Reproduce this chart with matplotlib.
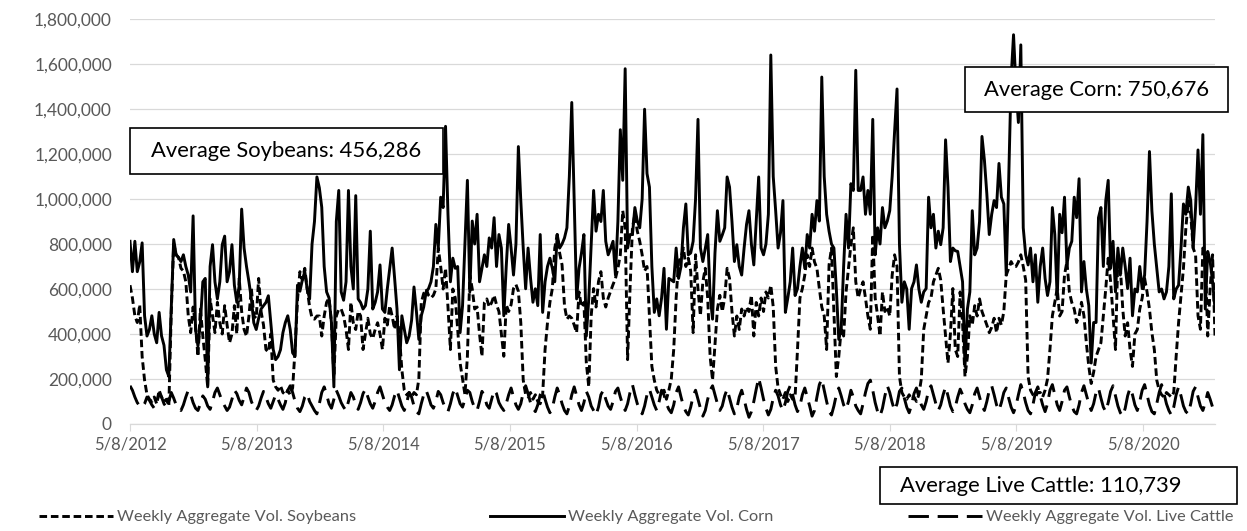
import pandas as pd
import matplotlib.pyplot as plt
from matplotlib.patches import Rectangle
from matplotlib.ticker import FuncFormatter, MultipleLocator

# ---------- DATA (weekly aggregate volume, thousands of contracts) ----------
start_date = "2012-05-08"

corn = [
    812, 677, 812, 677, 720, 805, 481, 391, 420, 481,
    400, 361, 496, 391, 350, 241, 211, 520, 820, 752,
    740, 722, 752, 700, 662, 587, 925, 420, 346, 451,
    632, 647, 165, 700, 797, 632, 556, 632, 797, 835,
    632, 677, 797, 617, 541, 617, 955, 782, 700, 632,
    556, 450, 420, 470, 511, 526, 540, 570, 450, 331,
    286, 300, 330, 406, 451, 481, 420, 316, 301, 617,
    590, 640, 677, 600, 556, 800, 900, 1098, 1050, 963,
    700, 587, 560, 450, 165, 900, 1038, 587, 550, 632,
    1038, 700, 600, 1015, 556, 540, 511, 526, 600, 857,
    511, 540, 587, 707, 511, 496, 600, 692, 782, 650,
    511, 241, 481, 420, 361, 391, 460, 609, 500, 376,
    481, 520, 587, 602, 632, 700, 887, 782, 1008, 962,
    1323, 932, 632, 737, 692, 700, 406, 526, 800, 1083,
    587, 902, 800, 932, 632, 692, 752, 700, 827, 782,
    917, 700, 842, 782, 481, 700, 887, 782, 662, 800,
    1233, 993, 782, 601, 782, 650, 541, 601, 526, 842,
    496, 632, 700, 737, 692, 632, 842, 782, 800, 827,
    872, 1100, 1429, 993, 556, 692, 760, 842, 391, 556,
    800, 1038, 857, 932, 900, 1038, 812, 752, 780, 812,
    662, 900, 1308, 1083, 1579, 782, 842, 842, 962, 902,
    872, 1000, 1399, 1113, 1053, 700, 496, 556, 481, 560,
    692, 421, 647, 640, 632, 782, 647, 700, 872, 978,
    752, 760, 812, 1000, 1354, 782, 722, 780, 842, 572,
    466, 760, 948, 812, 840, 872, 1098, 1053, 900, 722,
    797, 700, 662, 782, 887, 948, 800, 707, 900, 1098,
    782, 752, 800, 932, 1640, 1100, 948, 782, 850, 993,
    496, 560, 632, 782, 571, 602, 700, 782, 692, 842,
    782, 932, 857, 993, 902, 1542, 1100, 932, 857, 800,
    782, 600, 376, 421, 700, 932, 782, 1068, 1038, 1572,
    1038, 1038, 1098, 932, 1038, 932, 1354, 752, 872, 800,
    962, 872, 902, 948, 1100, 1300, 1489, 800, 541, 632,
    600, 421, 602, 632, 707, 600, 541, 587, 602, 1008,
    872, 932, 782, 857, 797, 872, 1263, 1053, 722, 782,
    770, 767, 700, 632, 256, 511, 587, 948, 752, 782,
    900, 1278, 1173, 1023, 842, 932, 993, 962, 1158, 1008,
    978, 662, 1083, 1534, 1730, 1500, 1340, 1685, 872, 752,
    707, 782, 632, 752, 541, 700, 782, 647, 571, 632,
    962, 842, 556, 932, 850, 1008, 707, 782, 812, 1008,
    917, 1090, 587, 722, 600, 526, 271, 451, 451, 917,
    962, 700, 993, 1083, 692, 812, 587, 782, 662, 782,
    700, 602, 737, 481, 600, 587, 700, 602, 662, 900,
    1211, 948, 800, 692, 587, 600, 556, 587, 700, 1023,
    556, 600, 617, 782, 978, 932, 1053, 993, 782, 962,
    1218, 932, 1286, 511, 767, 722, 632, 511,
]

soybeans = [
    617, 560, 481, 451, 530, 300, 195, 130, 110, 100,
    120, 90, 150, 120, 100, 110, 80, 500, 800, 752,
    740, 692, 680, 632, 481, 406, 520, 436, 300, 511,
    391, 286, 165, 556, 481, 406, 541, 450, 400, 526,
    440, 361, 400, 526, 400, 647, 500, 420, 390, 480,
    602, 481, 470, 647, 500, 440, 331, 320, 400, 195,
    165, 150, 170, 140, 130, 150, 130, 160, 331, 550,
    677, 640, 692, 600, 520, 470, 466, 480, 480, 391,
    480, 541, 560, 450, 210, 480, 511, 511, 480, 420,
    331, 541, 450, 420, 500, 481, 331, 400, 470, 400,
    380, 420, 450, 400, 331, 470, 440, 526, 480, 421,
    480, 391, 241, 150, 130, 140, 120, 140, 130, 200,
    540, 580, 600, 572, 560, 572, 600, 782, 700, 600,
    692, 520, 331, 600, 560, 420, 271, 200, 130, 300,
    662, 600, 511, 520, 400, 301, 540, 556, 520, 540,
    572, 530, 500, 400, 301, 530, 500, 530, 602, 620,
    590, 450, 195, 130, 120, 140, 110, 130, 100, 90,
    130, 331, 451, 541, 602, 782, 842, 760, 707, 526,
    466, 480, 470, 440, 406, 587, 520, 540, 271, 165,
    481, 602, 520, 632, 677, 560, 520, 560, 590, 620,
    647, 692, 752, 948, 872, 286, 600, 872, 932, 857,
    812, 752, 680, 700, 481, 256, 195, 150, 130, 140,
    150, 110, 150, 200, 331, 560, 722, 740, 782, 700,
    737, 680, 406, 752, 600, 481, 632, 692, 560, 300,
    195, 350, 511, 572, 500, 560, 692, 647, 500, 391,
    480, 420, 511, 480, 520, 500, 572, 391, 540, 480,
    560, 500, 587, 560, 617, 520, 256, 160, 130, 110,
    140, 100, 130, 110, 120, 331, 560, 602, 662, 752,
    700, 782, 720, 692, 602, 520, 481, 331, 707, 782,
    500, 211, 300, 420, 391, 587, 692, 797, 872, 632,
    560, 600, 632, 560, 480, 421, 842, 560, 480, 391,
    587, 500, 520, 480, 662, 752, 700, 211, 140, 120,
    110, 130, 110, 120, 100, 130, 200, 420, 481, 540,
    560, 632, 662, 692, 640, 511, 391, 271, 400, 602,
    331, 300, 587, 450, 211, 300, 481, 440, 526, 480,
    556, 500, 470, 440, 406, 430, 470, 406, 470, 440,
    500, 662, 692, 722, 700, 700, 720, 752, 700, 640,
    211, 150, 130, 120, 140, 140, 120, 150, 200, 331,
    481, 541, 602, 480, 500, 662, 722, 587, 540, 511,
    451, 480, 541, 481, 361, 256, 180, 230, 300, 331,
    361, 481, 602, 737, 632, 481, 331, 752, 700, 511,
    391, 450, 331, 256, 400, 420, 511, 560, 647, 587,
    511, 406, 331, 195, 150, 130, 120, 140, 130, 120,
    140, 301, 451, 572, 692, 872, 993, 932, 782, 752,
    481, 421, 782, 740, 391, 602, 752, 391,
]

cattle = [
    170, 150, 120, 95, 80, 75, 90, 120, 105, 85, 70, 95, 135, 120, 90, 75, 100, 140, 115, 85,
    70, 60, 85, 120, 150, 130, 95, 70, 60, 90, 125, 110, 80, 65, 100, 140, 160, 130, 100, 80,
    60, 75, 110, 150, 135, 105, 85, 120, 160, 140, 100, 75, 60, 80, 115, 145, 120, 90, 70, 100,
    130, 110, 85, 65, 95, 150, 170, 140, 100, 70, 55, 80, 120, 135, 100, 80, 60, 45, 90, 140,
    165, 130, 90, 70, 110, 150, 125, 95, 75, 60, 100, 140, 120, 85, 65, 95, 135, 155, 120, 90,
    70, 100, 140, 165, 130, 95, 75, 60, 85, 125, 150, 115, 80, 60, 95, 140, 120, 80, 55, 45,
    90, 130, 150, 120, 85, 70, 100, 145, 130, 95, 70, 55, 90, 135, 160, 125, 90, 75, 110, 150,
    140, 100, 70, 60, 100, 145, 125, 85, 70, 110, 150, 135, 95, 75, 60, 90, 130, 160, 120, 85,
    65, 90, 140, 170, 135, 95, 70, 55, 85, 130, 150, 110, 75, 50, 70, 120, 160, 130, 90, 60,
    45, 80, 130, 165, 125, 85, 60, 95, 145, 120, 80, 60, 40, 75, 130, 150, 110, 80, 65, 100,
    145, 160, 120, 85, 60, 90, 140, 175, 130, 90, 65, 45, 80, 130, 155, 120, 85, 60, 100, 150,
    130, 90, 65, 50, 85, 140, 165, 120, 80, 55, 40, 75, 125, 150, 110, 70, 35, 60, 110, 150,
    170, 130, 90, 60, 80, 125, 155, 115, 75, 45, 70, 120, 150, 110, 65, 30, 55, 100, 155, 205,
    160, 110, 70, 40, 65, 115, 150, 125, 85, 60, 95, 145, 170, 130, 85, 55, 80, 130, 160, 120,
    80, 35, 60, 120, 175, 200, 150, 100, 55, 40, 80, 130, 160, 125, 85, 65, 100, 150, 120, 80,
    60, 45, 90, 140, 180, 195, 150, 95, 55, 35, 70, 125, 170, 140, 95, 60, 90, 145, 160, 115,
    75, 50, 85, 135, 160, 120, 85, 65, 100, 150, 170, 130, 90, 60, 85, 130, 165, 125, 80, 55,
    75, 120, 155, 130, 90, 65, 50, 85, 135, 160, 120, 80, 60, 100, 150, 170, 130, 85, 60, 95,
    140, 160, 115, 75, 50, 80, 130, 175, 140, 95, 60, 45, 85, 140, 165, 125, 85, 55, 90, 150,
    175, 130, 85, 60, 100, 150, 165, 120, 80, 55, 45, 85, 140, 170, 130, 90, 60, 90, 140, 160,
    115, 75, 55, 95, 145, 170, 125, 80, 50, 35, 70, 125, 160, 130, 85, 60, 100, 150, 175, 130,
    85, 55, 45, 90, 140, 175, 135, 90, 60, 40, 75, 130, 165, 125, 80, 55, 45, 90, 145, 165,
    120, 80, 60, 95, 140, 110, 75, 55,
]

tick_years = [2012, 2013, 2014, 2015, 2016, 2017, 2018, 2019, 2020]
series_labels = ["Weekly Aggregate Vol. Soybeans",
                 "Weekly Aggregate Vol. Corn",
                 "Weekly Aggregate Vol. Live Cattle"]
avg_text = ["Average Soybeans: 456,286",
            "Average Corn: 750,676",
            "Average Live Cattle: 110,739"]

# ---------- STYLE ----------
plt.rcParams["font.family"] = ["Lato", "DejaVu Sans"]
GREY_TXT = "#595959"
GRID = "#d9d9d9"
W, H = 1247, 531

weeks = pd.date_range(start_date, periods=len(corn), freq="7D")

fig = plt.figure(figsize=(W / 100, H / 100), dpi=100)
ax = fig.add_axes([130 / W, 1 - 424 / H, (1215 - 130) / W, (424 - 19) / H])

l_soy, = ax.plot(weeks, [v * 1000 for v in soybeans], color="black", lw=2.1,
                 dashes=(2.6, 1.3), label=series_labels[0], zorder=3)
l_corn, = ax.plot(weeks, [v * 1000 for v in corn], color="black", lw=2.1,
                  solid_joinstyle="round", label=series_labels[1], zorder=4)
l_cat, = ax.plot(weeks, [v * 1000 for v in cattle], color="black", lw=2.1,
                 dashes=(7, 3), label=series_labels[2], zorder=3)

# ---------- AXES ----------
ax.set_ylim(0, 1800000)
ax.yaxis.set_major_locator(MultipleLocator(200000))
ax.yaxis.set_major_formatter(FuncFormatter(lambda v, p: f"{v:,.0f}"))
ax.set_xlim(weeks[0], weeks[-1])
ax.set_xticks([pd.Timestamp(y, 5, 8) for y in tick_years])
ax.set_xticklabels([f"5/8/{y}" for y in tick_years])

ax.grid(axis="y", color=GRID, lw=0.9)
ax.set_axisbelow(True)
for side in ["left", "right", "top"]:
    ax.spines[side].set_visible(False)
ax.spines["bottom"].set_color(GRID)
ax.spines["bottom"].set_linewidth(0.9)
ax.tick_params(axis="y", length=0, pad=13, labelsize=12.5, labelcolor=GREY_TXT)
ax.tick_params(axis="x", length=5, color=GRID, pad=4, labelsize=12, labelcolor=GREY_TXT)

# ---------- AVERAGE BOXES ----------
boxes = [(130, 128, 443, 174, "center"), (965, 67, 1228, 112, "center"),
         (880, 467, 1237, 504, "left")]
for (x0, y0, x1, y1, ha), txt in zip(boxes, avg_text):
    fig.add_artist(Rectangle((x0 / W, 1 - y1 / H), (x1 - x0) / W, (y1 - y0) / H,
                             transform=fig.transFigure, facecolor="white",
                             edgecolor="black", lw=1.2, zorder=5))
    tx = (x0 + x1) / 2 if ha == "center" else x0 + 20
    fig.text(tx / W, 1 - (y0 + y1) / 2 / H, txt, ha=ha, va="center",
             fontsize=15.8, color="black", zorder=6)

# ---------- LEGEND ----------
leg = fig.legend(handles=[l_soy, l_corn, l_cat], loc="center",
                 bbox_to_anchor=(636 / W, 1 - 517 / H), ncol=3, frameon=False,
                 handlelength=4.5, handletextpad=0.25, columnspacing=8.2,
                 fontsize=11.8, labelcolor=GREY_TXT, borderaxespad=0)

fig.savefig("out.png", dpi=100)
